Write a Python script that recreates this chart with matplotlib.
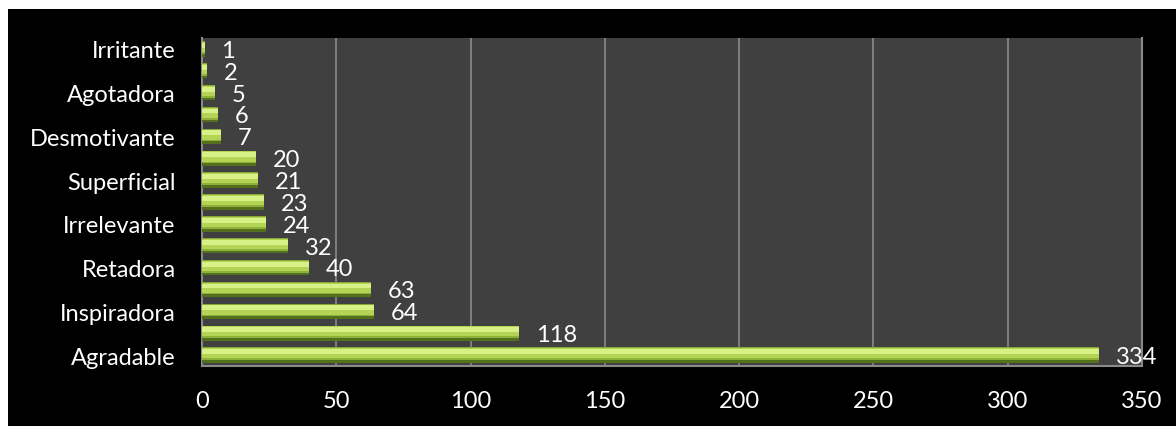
import matplotlib.pyplot as plt
from matplotlib.patches import Rectangle
import numpy as np

plt.rcParams['font.family'] = ['Lato', 'DejaVu Sans']

# categories bottom to top; Excel only printed every other label
categorias = ['Agradable', '', 'Inspiradora', '', 'Retadora', '', 'Irrelevante', '',
              'Superficial', '', 'Desmotivante', '', 'Agotadora', '', 'Irritante']
valores = [334, 118, 64, 63, 40, 32, 24, 23, 21, 20, 7, 6, 5, 2, 1]
xticks = [0, 50, 100, 150, 200, 250, 300, 350]

fig = plt.figure(figsize=(11.76, 4.27), dpi=100, facecolor='white')
# black panel behind the chart
fig.patches.append(Rectangle((8 / 1176, 0), 1, 1 - 10 / 427, transform=fig.transFigure,
                             facecolor='black', edgecolor='none', zorder=-5))

ax = fig.add_axes([202 / 1176, 1 - 367 / 427, 940 / 1176, 328 / 427])
ax.set_facecolor('#404040')

y = np.arange(len(valores))
h = 0.7
# bevelled bar look: dark base, green body, light highlight
ax.barh(y, valores, height=h, color='#55701c', zorder=3)
ax.barh(y + 0.05, valores, height=0.56, color='#8fb03a', zorder=4)
ax.barh(y + 0.08, valores, height=0.46, color='#b4d455', zorder=5)
ax.barh(y + 0.16, valores, height=0.22, color='#d8f186', zorder=6)
ax.barh(y + 0.33, valores, height=0.04, color='#88a636', zorder=6)

for yi, v in zip(y, valores):
    ax.annotate(str(v), (v, yi), xytext=(12, -1), textcoords='offset points',
                ha='left', va='center', color='white', fontsize=17, zorder=7,
                annotation_clip=False)

ax.set_xlim(0, 350)
ax.set_ylim(-0.5, len(valores) - 0.5)
ax.set_xticks(xticks)
ax.set_yticks(y)
ax.set_yticklabels(categorias)
ax.tick_params(axis='x', length=0, pad=17, colors='white', labelsize=17)
ax.tick_params(axis='y', length=0, pad=19, colors='white', labelsize=17)
ax.grid(axis='x', color='#8a8a8a', linewidth=1.2, zorder=1)
ax.set_axisbelow(True)

for s in ['left', 'bottom', 'right']:
    ax.spines[s].set_color('#8a8a8a')
    ax.spines[s].set_linewidth(1.5)
ax.spines['top'].set_visible(False)

fig.savefig('out.png', dpi=100, facecolor=fig.get_facecolor())
